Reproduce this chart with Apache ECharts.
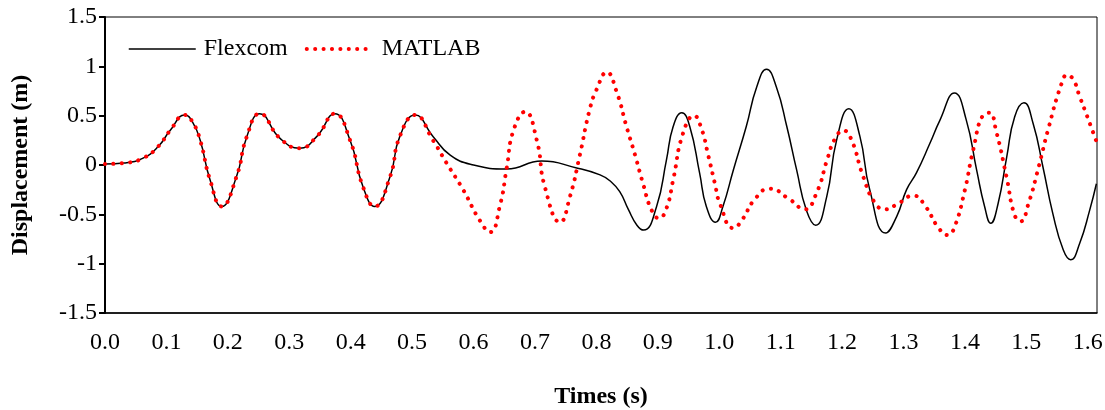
<!DOCTYPE html>
<html><head><meta charset="utf-8">
<script src="https://cdn.jsdelivr.net/npm/echarts@6/dist/echarts.min.js"></script>
<style>html,body{margin:0;padding:0;background:#fff}#c{width:1105px;height:410px}</style>
</head><body><div id="c"></div>
<script>
const seriesNames = ['Flexcom', 'MATLAB'];
const flexT = [0, 0.031, 0.062, 0.087, 0.106, 0.130, 0.143, 0.155, 0.171, 0.190, 0.214, 0.231, 0.252, 0.285, 0.317, 0.345, 0.374, 0.399, 0.420, 0.439, 0.464, 0.480, 0.505, 0.534, 0.562, 0.600, 0.654, 0.711, 0.768, 0.806, 0.822, 0.838, 0.852, 0.866, 0.877, 0.898, 0.914, 0.925, 0.939, 0.952, 0.968, 0.979, 0.994, 1.006, 1.023, 1.044, 1.061, 1.077, 1.093, 1.110, 1.126, 1.142, 1.157, 1.175, 1.191, 1.211, 1.229, 1.245, 1.271, 1.289, 1.305, 1.321, 1.343, 1.359, 1.383, 1.402, 1.419, 1.432, 1.442, 1.454, 1.468, 1.481, 1.496, 1.511, 1.527, 1.543, 1.560, 1.572, 1.587, 1.603, 1.614];
const flexV = [0.01, 0.02, 0.07, 0.19, 0.35, 0.507, 0.43, 0.25, -0.15, -0.42, -0.12, 0.29, 0.52, 0.27, 0.17, 0.29, 0.52, 0.25, -0.22, -0.42, -0.12, 0.29, 0.507, 0.29, 0.10, 0.0, -0.04, 0.04, -0.03, -0.10, -0.16, -0.27, -0.45, -0.61, -0.66, -0.42, 0.05, 0.39, 0.53, 0.39, -0.08, -0.42, -0.58, -0.42, -0.05, 0.39, 0.79, 0.97, 0.79, 0.39, -0.05, -0.46, -0.61, -0.32, 0.25, 0.57, 0.29, -0.25, -0.69, -0.52, -0.25, -0.08, 0.22, 0.45, 0.73, 0.46, -0.05, -0.42, -0.59, -0.39, 0.08, 0.49, 0.63, 0.42, -0.02, -0.49, -0.86, -0.96, -0.79, -0.46, -0.19];
const matT = [0, 0.031, 0.062, 0.087, 0.106, 0.130, 0.143, 0.155, 0.171, 0.190, 0.214, 0.231, 0.252, 0.285, 0.317, 0.345, 0.374, 0.399, 0.420, 0.439, 0.464, 0.480, 0.505, 0.534, 0.556, 0.583, 0.610, 0.627, 0.643, 0.654, 0.665, 0.684, 0.703, 0.716, 0.741, 0.757, 0.773, 0.789, 0.800, 0.817, 0.833, 0.849, 0.863, 0.876, 0.890, 0.902, 0.914, 0.925, 0.941, 0.959, 0.971, 0.982, 0.993, 1.001, 1.023, 1.039, 1.055, 1.082, 1.115, 1.139, 1.158, 1.177, 1.188, 1.202, 1.215, 1.234, 1.253, 1.270, 1.289, 1.316, 1.337, 1.354, 1.372, 1.383, 1.400, 1.413, 1.430, 1.440, 1.451, 1.468, 1.481, 1.491, 1.503, 1.520, 1.535, 1.557, 1.566, 1.576, 1.587, 1.598, 1.614];
const matV = [0.01, 0.02, 0.07, 0.19, 0.35, 0.507, 0.43, 0.25, -0.15, -0.42, -0.12, 0.29, 0.52, 0.27, 0.17, 0.29, 0.52, 0.25, -0.22, -0.42, -0.12, 0.29, 0.507, 0.25, 0.02, -0.25, -0.56, -0.68, -0.41, -0.03, 0.35, 0.54, 0.25, -0.22, -0.58, -0.32, 0.10, 0.56, 0.76, 0.94, 0.74, 0.39, 0.10, -0.19, -0.46, -0.54, -0.44, -0.15, 0.32, 0.50, 0.37, 0.10, -0.19, -0.39, -0.64, -0.54, -0.37, -0.24, -0.35, -0.45, -0.29, 0.08, 0.26, 0.35, 0.26, -0.11, -0.38, -0.45, -0.40, -0.31, -0.43, -0.61, -0.71, -0.63, -0.25, 0.14, 0.51, 0.53, 0.34, -0.13, -0.51, -0.57, -0.40, -0.02, 0.35, 0.82, 0.91, 0.87, 0.69, 0.51, 0.24];

const FONT = '"Liberation Serif", "Times New Roman", serif';
const chart = echarts.init(document.getElementById('c'));
chart.setOption({
  animation: false,
  backgroundColor: '#fff',
  grid: {left: 105, right: 8, top: 17, bottom: 97, show: true, borderColor: '#000', borderWidth: 1,
    containLabel: false, outerBoundsMode: 'none'},
  legend: {
    left: 128, top: 37, padding: 0, itemWidth: 67, itemHeight: 14, itemGap: 17,
    textStyle: {fontFamily: FONT, fontSize: 24, color: '#000', padding: [0, 0, 0, 3]},
    lineStyle: {width: 'inherit'},
    itemStyle: {opacity: 0},
    data: seriesNames
  },
  xAxis: {
    type: 'value', min: 0, max: 1.615, interval: 0.1,
    name: 'Times (s)', nameLocation: 'middle', nameGap: 72,
    nameTextStyle: {fontFamily: FONT, fontSize: 24, fontWeight: 'bold', color: '#000'},
    axisLine: {show: true, onZero: false, lineStyle: {color: '#000', width: 1.5}},
    axisTick: {show: false},
    splitLine: {show: false},
    axisLabel: {margin: 18, fontFamily: FONT, fontSize: 24, color: '#000',
      formatter: v => v > 1.6001 ? '' : v.toFixed(1), showMaxLabel: false}
  },
  yAxis: {
    type: 'value', min: -1.5, max: 1.5, interval: 0.5,
    name: 'Displacement (m)', nameLocation: 'middle', nameGap: 72, nameRotate: 90,
    nameTextStyle: {fontFamily: FONT, fontSize: 24, fontWeight: 'bold', color: '#000'},
    axisLine: {show: true, lineStyle: {color: '#000', width: 2}},
    axisTick: {show: true, inside: false, length: 6, lineStyle: {color: '#000', width: 2}},
    splitLine: {show: false},
    axisLabel: {margin: 8, fontFamily: FONT, fontSize: 24, color: '#000',
      formatter: v => String(v)}
  },
  series: [
    {
      name: seriesNames[0], type: 'line', showSymbol: false, symbol: 'none',
      smooth: 0.5,
      data: flexT.map((t, i) => [t, flexV[i]]),
      itemStyle: {color: '#000'},
      lineStyle: {color: '#000', width: 1.5}, z: 3
    },
    {
      name: seriesNames[1], type: 'line', showSymbol: false, symbol: 'none',
      smooth: 0.5,
      data: matT.map((t, i) => [t, matV[i]]),
      itemStyle: {color: '#ff0000'},
      lineStyle: {color: '#ff0000', width: 4, type: [0.1, 8.3], cap: 'round'}, z: 4
    }
  ]
});
</script></body></html>
